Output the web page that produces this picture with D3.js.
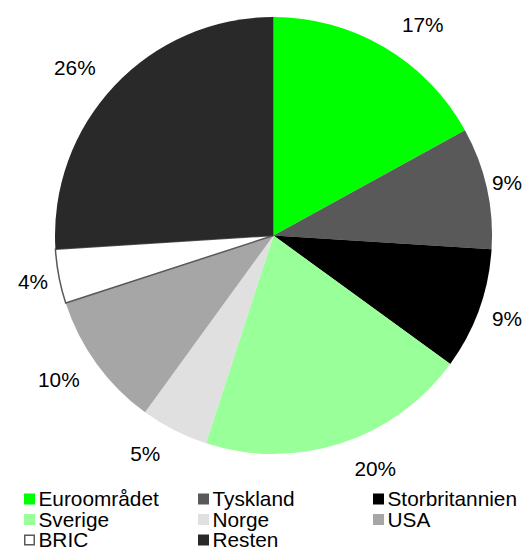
<!DOCTYPE html>
<html>
<head>
<meta charset="utf-8">
<script src="https://cdn.jsdelivr.net/npm/d3@7"></script>
<style>
  body { margin: 0; background: #fff; }
  svg { display: block; font-family: "Liberation Sans", Arial, sans-serif; }
</style>
</head>
<body>
<div id="chart"></div>
<script>
// chart data
const categories = ["Euroområdet", "Tyskland", "Storbritannien", "Sverige", "Norge", "USA", "BRIC", "Resten"];
const shares = [17, 9, 9, 20, 5, 10, 4, 26];
const colors = ["#00ff00", "#595959", "#000000", "#99ff99", "#e0e0e0", "#a6a6a6", "#ffffff", "#292929"];

const width = 525, height = 550;
const cx = 273.5, cy = 235.5, r = 218.5;
const fontSize = 20.8;

const svg = d3.select("#chart").append("svg")
  .attr("width", width)
  .attr("height", height);

const data = categories.map((c, i) => ({ name: c, value: shares[i], color: colors[i] }));

const pie = d3.pie().sort(null).value(d => d.value);
const arc = d3.arc().innerRadius(0).outerRadius(r);
const arcs = pie(data);

const g = svg.append("g").attr("transform", `translate(${cx},${cy})`);

g.selectAll("path")
  .data(arcs)
  .join("path")
  .attr("d", arc)
  .attr("fill", d => d.data.color)
  .attr("stroke", d => d.data.name === "BRIC" ? "#595959" : "none")
  .attr("stroke-width", 1.5);

// percentage labels outside the slices
const labelR = r + 19;
g.selectAll("text.pct")
  .data(arcs)
  .join("text")
  .attr("class", "pct")
  .attr("font-size", fontSize)
  .attr("fill", "#000")
  .attr("text-anchor", "middle")
  .attr("dy", "0.36em")
  .text(d => d.data.value + "%")
  .each(function (d) {
    const a = (d.startAngle + d.endAngle) / 2;
    const s = Math.sin(a), c = -Math.cos(a);
    const w = this.getBBox().width, h = fontSize * 0.72;
    // push the label sideways, more for slices near top/bottom
    const shift = w * Math.min(0.68, 0.75 * Math.abs(c) + 0.1);
    let x = labelR * s + Math.sign(s) * shift;
    // keep labels inside the page
    x = Math.max(w / 2 + 3 - cx, Math.min(width - 3 - w / 2 - cx, x));
    const y = labelR * c + c * h / 2;
    d3.select(this).attr("x", x).attr("y", y);
  });

// legend
const colX = [24, 198, 373];
const rowY = [493.5, 514, 534.5];
const box = 11;

const legend = svg.append("g");
const items = legend.selectAll("g")
  .data(data)
  .join("g")
  .attr("transform", (d, i) => `translate(${colX[i % 3]},${rowY[Math.floor(i / 3)]})`);

items.append("rect")
  .attr("x", d => d.name === "BRIC" ? 0.75 : 0)
  .attr("y", d => d.name === "BRIC" ? 0.75 : 0)
  .attr("width", d => d.name === "BRIC" ? box - 1.5 : box)
  .attr("height", d => d.name === "BRIC" ? box - 1.5 : box)
  .attr("fill", d => d.color)
  .attr("stroke", d => d.name === "BRIC" ? "#595959" : "none")
  .attr("stroke-width", 1.5);

items.append("text")
  .attr("x", box + 3.5)
  .attr("y", 12.5)
  .attr("font-size", fontSize)
  .attr("fill", "#000")
  .text(d => d.name);
</script>
</body>
</html>
